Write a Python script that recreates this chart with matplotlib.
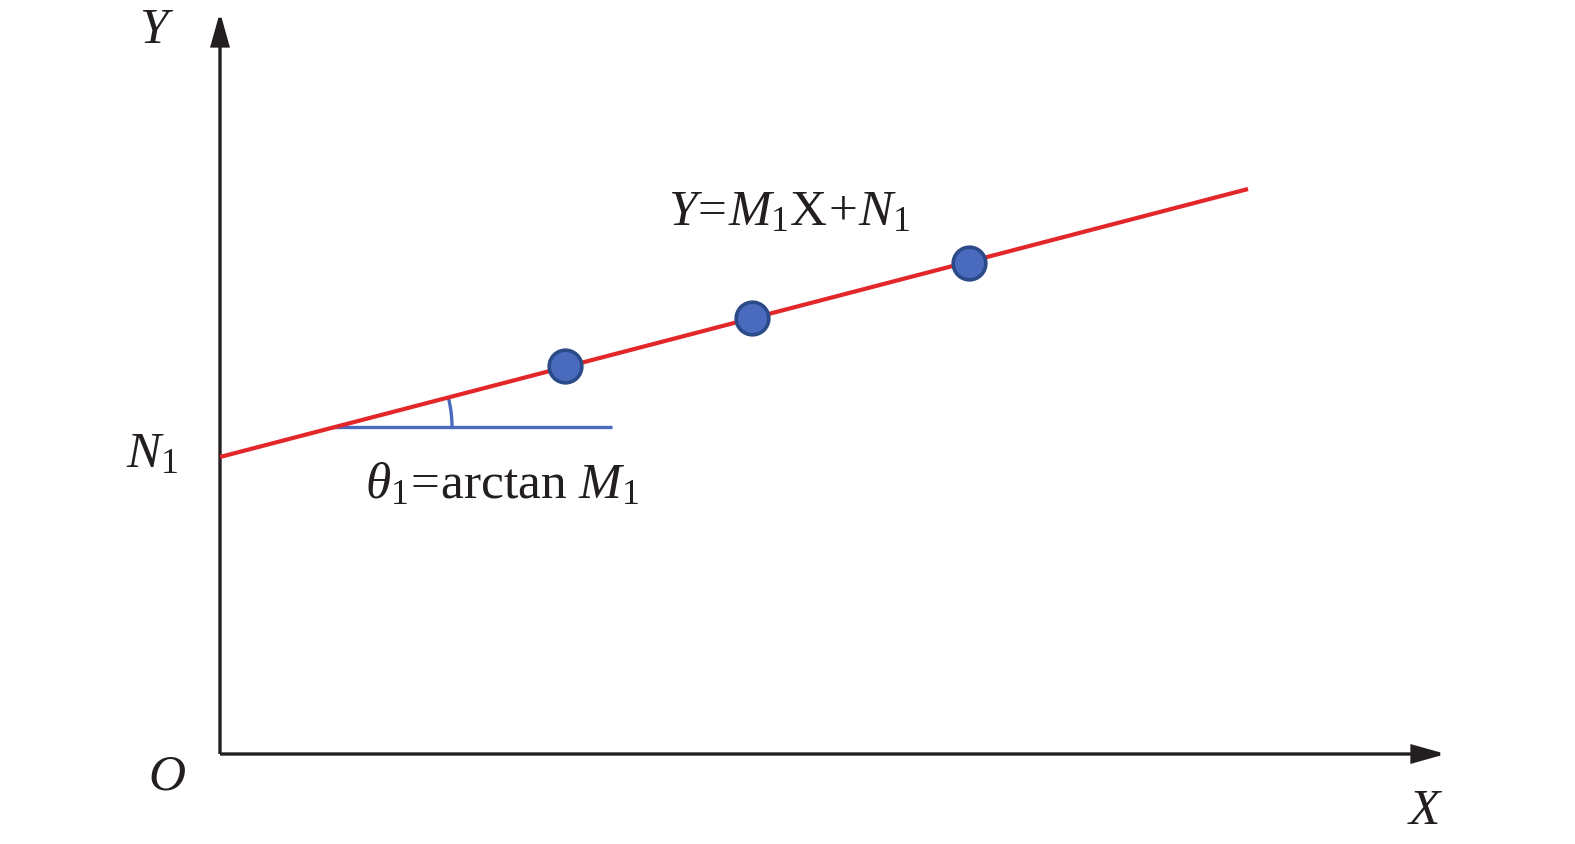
import numpy as np
import matplotlib.pyplot as plt
import matplotlib as mpl
from matplotlib.patches import Arc, FancyArrowPatch

mpl.rcParams["font.family"] = "Liberation Serif"
mpl.rcParams["mathtext.fontset"] = "custom"
mpl.rcParams["mathtext.rm"] = "Liberation Serif"
mpl.rcParams["mathtext.it"] = "Liberation Serif:italic"

# data (units: 1 unit = 100 px of the original picture, origin at O)
pts_x = [3.45, 5.32, 7.49]
pts_y = [3.88, 4.36, 4.91]
line_x = [0.0, 10.28]
line_y = [2.97, 5.65]
ref_x = [1.12, 3.92]      # horizontal reference segment for the angle
ref_y = [3.27, 3.27]
x_axis_end = 12.26
y_axis_end = 7.42

red = "#e3262a"
blue = "#4a6bbd"
dark_blue = "#2b4a88"

fig = plt.figure(figsize=(15.75, 8.44), dpi=100, facecolor="w")
ax = fig.add_axes([0, 0, 1, 1])
ax.set_xlim(-2.20, 13.55)
ax.set_ylim(-0.90, 7.54)
ax.axis("off")

# axes arrows
for end in [(x_axis_end, 0), (0, y_axis_end)]:
    arr = FancyArrowPatch((0, 0), end, arrowstyle="-|>,head_length=1.0,head_width=0.28",
                          mutation_scale=20, color="#231f20", lw=2.4,
                          shrinkA=0, shrinkB=0, joinstyle="miter", capstyle="butt")
    ax.add_patch(arr)

# fitted line and reference segment
ax.plot(line_x, line_y, color=red, lw=3.0, solid_capstyle="butt", zorder=3)
ax.plot(ref_x, ref_y, color=blue, lw=2.4, solid_capstyle="butt", zorder=2)

slope = (line_y[1] - line_y[0]) / (line_x[1] - line_x[0])
ang = np.degrees(np.arctan(slope))
arc = Arc((ref_x[0], ref_y[0]), 2.4, 2.4, theta1=0, theta2=ang, color=blue, lw=2.4, zorder=2)
ax.add_patch(arc)

ax.plot(pts_x, pts_y, "o", ms=23.5, mfc=blue, mec=dark_blue, mew=2.6, zorder=4)

tc = "#231f20"
fs = 37
ax.text(-0.63, 7.23, "$Y$", fontsize=fs, color=tc, ha="center", va="center")
ax.text(-0.53, -0.23, "$O$", fontsize=fs, color=tc, ha="center", va="center")
ax.text(12.05, -0.58, "$X$", fontsize=fs, color=tc, ha="center", va="center")
ax.text(-0.42, 2.87, "$N_1$", fontsize=fs, color=tc, ha="right", va="baseline")
ax.text(1.45, 2.56, r"$\theta_1\!=\!\mathrm{arctan}\ M_1$", fontsize=fs, color=tc,
        ha="left", va="baseline")
ax.text(4.48, 5.29, r"$Y\!=\!M_1\mathrm{X}\!+\!N_1$", fontsize=fs, color=tc,
        ha="left", va="baseline")

fig.savefig("out.png", dpi=100, facecolor="w")
